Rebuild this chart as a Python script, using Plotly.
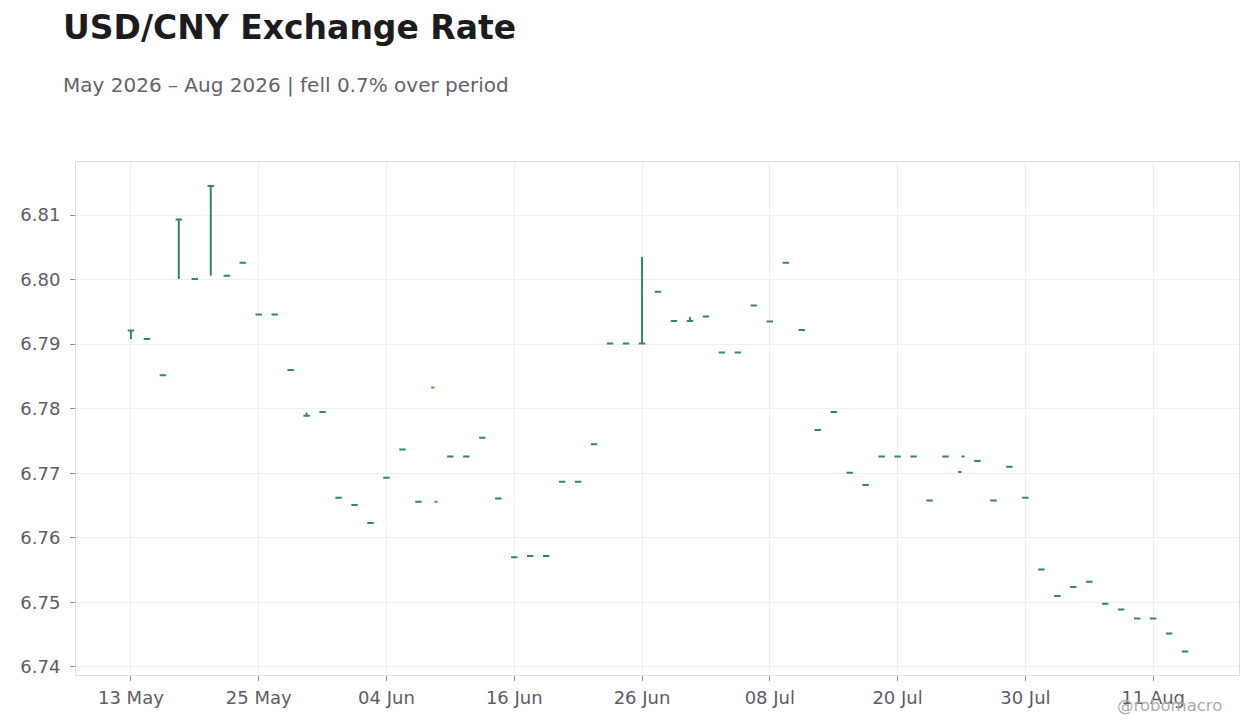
"""USD/CNY daily OHLC chart, May - Aug 2026."""

import plotly.graph_objects as go

# Business days shown on the chart (weekends collapsed by rangebreaks)
dates = [
    "2026-05-13", "2026-05-14", "2026-05-15",
    "2026-05-18", "2026-05-19", "2026-05-20", "2026-05-21", "2026-05-22",
    "2026-05-25", "2026-05-26", "2026-05-27", "2026-05-28", "2026-05-29",
    "2026-06-01", "2026-06-02", "2026-06-03", "2026-06-04", "2026-06-05",
    "2026-06-08", "2026-06-09", "2026-06-10", "2026-06-11", "2026-06-12",
    "2026-06-15", "2026-06-16", "2026-06-17", "2026-06-18", "2026-06-19",
    "2026-06-22", "2026-06-23", "2026-06-24", "2026-06-25", "2026-06-26",
    "2026-06-29", "2026-06-30", "2026-07-01", "2026-07-02", "2026-07-03",
    "2026-07-06", "2026-07-07", "2026-07-08", "2026-07-09", "2026-07-10",
    "2026-07-13", "2026-07-14", "2026-07-15", "2026-07-16", "2026-07-17",
    "2026-07-20", "2026-07-21", "2026-07-22", "2026-07-23", "2026-07-24",
    "2026-07-27", "2026-07-28", "2026-07-29", "2026-07-30", "2026-07-31",
    "2026-08-03", "2026-08-04", "2026-08-05", "2026-08-06", "2026-08-07",
    "2026-08-10", "2026-08-11", "2026-08-12", "2026-08-13",
]

close = [
    6.7921, 6.7908, 6.7852,
    6.8093, 6.8001, 6.8145, 6.8006, 6.8026,
    6.7946, 6.7946, 6.7860, 6.7789, 6.7795,
    6.7662, 6.7651, 6.7623, 6.7693, 6.7737,
    6.7656, 6.7656, 6.7726, 6.7726, 6.7755,
    6.7661, 6.7570, 6.7572, 6.7572, 6.7687,
    6.7687, 6.7745, 6.7901, 6.7901, 6.7901,
    6.7981, 6.7936, 6.7936, 6.7943, 6.7887,
    6.7887, 6.7960, 6.7935, 6.8026, 6.7922,
    6.7767, 6.7795, 6.7701, 6.7682, 6.7726,
    6.7726, 6.7726, 6.7658, 6.7726, 6.7726,
    6.7719, 6.7658, 6.7710, 6.7662, 6.7551,
    6.7510, 6.7524, 6.7532, 6.7498, 6.7489,
    6.7475, 6.7475, 6.7452, 6.7424,
]

open_ = [
    6.7921, 6.7908, 6.7852,
    6.8093, 6.8001, 6.8145, 6.8006, 6.8026,
    6.7946, 6.7946, 6.7860, 6.7789, 6.7795,
    6.7662, 6.7651, 6.7623, 6.7693, 6.7737,
    6.7656, 6.7833, 6.7726, 6.7726, 6.7755,
    6.7661, 6.7570, 6.7572, 6.7572, 6.7687,
    6.7687, 6.7745, 6.7901, 6.7901, 6.7901,
    6.7981, 6.7936, 6.7936, 6.7943, 6.7887,
    6.7887, 6.7960, 6.7935, 6.8026, 6.7922,
    6.7767, 6.7795, 6.7701, 6.7682, 6.7726,
    6.7726, 6.7726, 6.7658, 6.7726, 6.7702,
    6.7719, 6.7658, 6.7710, 6.7662, 6.7551,
    6.7510, 6.7524, 6.7532, 6.7498, 6.7489,
    6.7475, 6.7475, 6.7452, 6.7424,
]

high = [
    6.7921, 6.7908, 6.7852,
    6.8093, 6.8001, 6.8145, 6.8006, 6.8026,
    6.7946, 6.7946, 6.7860, 6.7794, 6.7795,
    6.7662, 6.7651, 6.7623, 6.7693, 6.7737,
    6.7656, 6.7656, 6.7726, 6.7726, 6.7755,
    6.7661, 6.7570, 6.7572, 6.7572, 6.7687,
    6.7687, 6.7745, 6.7901, 6.7901, 6.8035,
    6.7981, 6.7936, 6.7942, 6.7943, 6.7887,
    6.7887, 6.7960, 6.7935, 6.8026, 6.7922,
    6.7767, 6.7795, 6.7701, 6.7682, 6.7726,
    6.7726, 6.7726, 6.7658, 6.7726, 6.7726,
    6.7719, 6.7658, 6.7710, 6.7662, 6.7551,
    6.7510, 6.7524, 6.7532, 6.7498, 6.7489,
    6.7475, 6.7475, 6.7452, 6.7424,
]

low = [
    6.7908, 6.7908, 6.7852,
    6.8001, 6.8001, 6.8006, 6.8006, 6.8026,
    6.7946, 6.7946, 6.7860, 6.7789, 6.7795,
    6.7662, 6.7651, 6.7623, 6.7693, 6.7737,
    6.7656, 6.7656, 6.7726, 6.7726, 6.7755,
    6.7661, 6.7570, 6.7572, 6.7572, 6.7687,
    6.7687, 6.7745, 6.7901, 6.7901, 6.7901,
    6.7981, 6.7936, 6.7936, 6.7943, 6.7887,
    6.7887, 6.7960, 6.7935, 6.8026, 6.7922,
    6.7767, 6.7795, 6.7701, 6.7682, 6.7726,
    6.7726, 6.7726, 6.7658, 6.7726, 6.7726,
    6.7719, 6.7658, 6.7710, 6.7662, 6.7551,
    6.7510, 6.7524, 6.7532, 6.7498, 6.7489,
    6.7475, 6.7475, 6.7452, 6.7424,
]

tick_dates = [
    "2026-05-13", "2026-05-25", "2026-06-04", "2026-06-16", "2026-06-26",
    "2026-07-08", "2026-07-20", "2026-07-30", "2026-08-11",
]
tick_labels = ["13 May", "25 May", "04 Jun", "16 Jun", "26 Jun", "08 Jul", "20 Jul", "30 Jul", "11 Aug"]

GREEN = "#2e8b57"
RED = "#d5603b"
FONT = "DejaVu Sans"

fig = go.Figure()

# Bars closing below their open are red; everything else (incl. flat bars) green.
# Both traces keep the full date list (blanks where the other trace draws) so
# plotly sizes the open/close ticks from the 1-day spacing.
falling = [c < o for o, c in zip(open_, close)]


def pick(values, want_down):
    return [v if f == want_down else None for v, f in zip(values, falling)]


for want_down, color in ((False, GREEN), (True, RED)):
    fig.add_trace(
        go.Ohlc(
            x=dates,
            open=pick(open_, want_down),
            high=pick(high, want_down),
            low=pick(low, want_down),
            close=pick(close, want_down),
            tickwidth=0.2,
            increasing={"line": {"color": color, "width": 2}},
            decreasing={"line": {"color": color, "width": 2}},
            showlegend=False,
        )
    )

axis_common = {
    "showline": True,
    "linecolor": "#dedee2",
    "linewidth": 1,
    "mirror": True,
    "showgrid": True,
    "gridcolor": "#eeeeee",
    "ticks": "outside",
    "ticklen": 5,
    "tickcolor": "#8c8c96",
    "tickfont": {"family": FONT, "size": 18, "color": "#5c5c68"},
    "zeroline": False,
}

fig.update_xaxes(
    type="date",
    rangebreaks=[{"bounds": ["sat", "mon"]}],
    range=["2026-05-07 13:30", "2026-08-18 09:00"],
    tickvals=tick_dates,
    ticktext=tick_labels,
    rangeslider={"visible": False},
    ticklabelstandoff=1,
    **axis_common,
)
fig.update_yaxes(
    range=[6.73876, 6.81821],
    dtick=0.01,
    tick0=6.74,
    tickformat=".2f",
    ticklabelstandoff=6,
    **axis_common,
)

# Title, subtitle and watermark
fig.add_annotation(
    text="<b>USD/CNY Exchange Rate</b>",
    xref="paper", yref="paper", x=-0.0131, y=1.262,
    xanchor="left", yanchor="middle", showarrow=False,
    font={"family": FONT, "size": 33, "color": "#1b1b20"},
)
fig.add_annotation(
    text="May 2026 – Aug 2026 | fell 0.7% over period",
    xref="paper", yref="paper", x=-0.0131, y=1.151,
    xanchor="left", yanchor="middle", showarrow=False,
    font={"family": FONT, "size": 20, "color": "#62626e"},
)
fig.add_annotation(
    text="@robomacro",
    xref="paper", yref="paper", x=0.9871, y=-0.0585,
    xanchor="right", yanchor="middle", showarrow=False,
    font={"family": FONT, "size": 16.5, "color": "#ababb3"},
)

fig.update_layout(
    width=1252,
    height=720,
    margin={"l": 66, "r": 21, "t": 154, "b": 53},
    paper_bgcolor="white",
    plot_bgcolor="white",
    font={"family": FONT, "color": "#5c5c68"},
    showlegend=False,
    hovermode="x",
)

fig.write_html("out.html")
